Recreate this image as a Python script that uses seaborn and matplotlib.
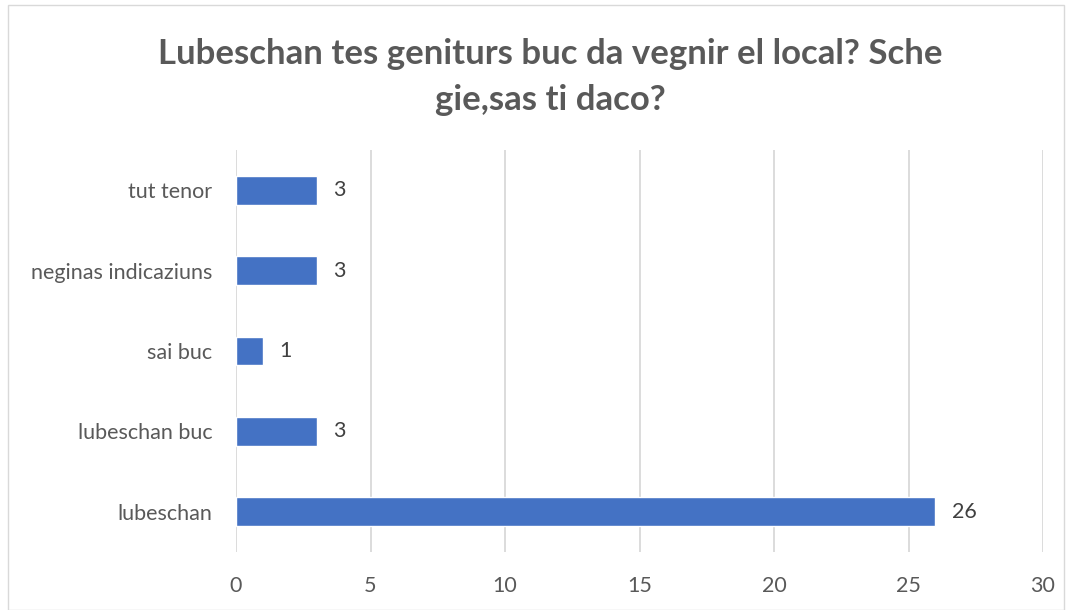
import numpy as np
import pandas as pd

import matplotlib
matplotlib.use("Agg")
import matplotlib.pyplot as plt
import seaborn as sns
from matplotlib.patches import Rectangle


categories = ["tut tenor", "neginas indicaziuns", "sai buc", "lubeschan buc", "lubeschan"]
counts = [3, 3, 1, 3, 26]
x_ticks = [0, 5, 10, 15, 20, 25, 30]

title = "Lubeschan tes geniturs buc da vegnir el local? Sche\ngie,sas ti daco?"


def main():
    sns.set_style("white")
    plt.rcParams["font.family"] = ["Lato", "DejaVu Sans"]

    df = pd.DataFrame({"answer": categories, "count": counts})

    fig = plt.figure(figsize=(10.68, 6.10), dpi=100)
    # light frame around the whole chart
    fig.patches.append(Rectangle((8 / 1068, 0), 1056 / 1068, 605 / 610, transform=fig.transFigure,
                                 fill=False, edgecolor="#d9d9d9", linewidth=1))

    ax = fig.add_axes([236 / 1068, 58 / 610, 807 / 1068, 402 / 610])
    sns.barplot(data=df, x="count", y="answer", color="#4472C4", width=0.36,
                saturation=1, ax=ax, zorder=3)

    ax.set_xlim(0, 30)
    ax.set_xticks(x_ticks)
    ax.set_ylim(len(categories) - 0.5, -0.5)
    ax.xaxis.grid(True, color="#d9d9d9", linewidth=1.3, zorder=0)
    ax.yaxis.grid(False)
    for s in ax.spines.values():
        s.set_visible(False)
    ax.set_xlabel("")
    ax.set_ylabel("")
    ax.tick_params(axis="both", length=0, labelsize=15.5, labelcolor="#595959")
    ax.tick_params(axis="x", pad=17)
    ax.tick_params(axis="y", pad=17)

    for i, v in enumerate(counts):
        ax.annotate(str(v), (v, i), xytext=(12, 0), textcoords="offset points",
                    va="center", ha="left", fontsize=15.5, color="#404040")

    fig.text(0.515, 0.874, title, ha="center", va="center", fontsize=25,
             fontweight="bold", color="#595959", linespacing=1.55)

    fig.savefig("out.png", dpi=100)


if __name__ == '__main__':
    main()
